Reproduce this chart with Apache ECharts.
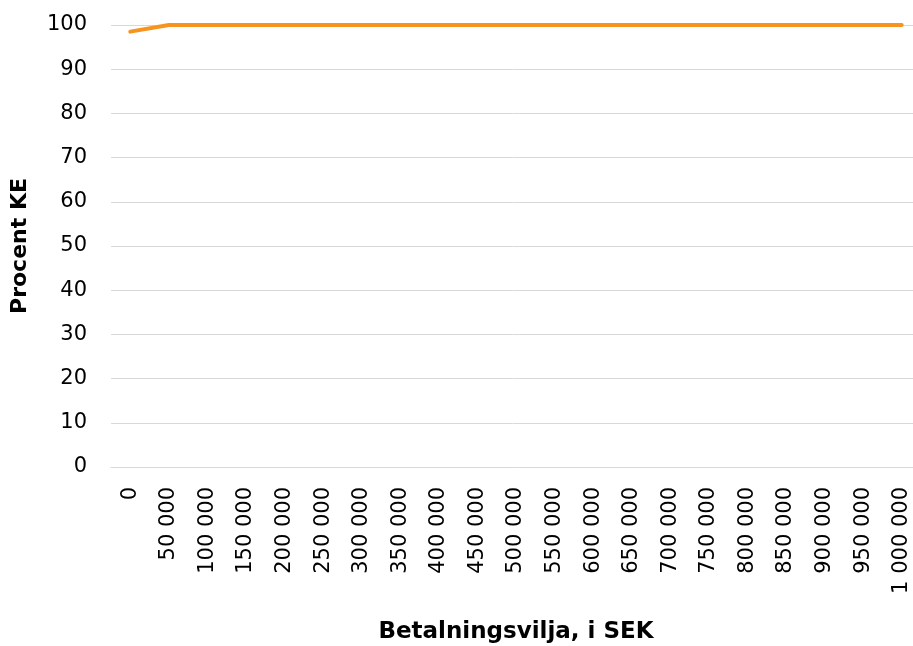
<!DOCTYPE html>
<html>
<head>
    <meta charset="utf-8">
    <title>Procent KE</title>
    <script src="https://cdn.jsdelivr.net/npm/echarts@6/dist/echarts.min.js"></script>
    <style>
        body { margin: 0; background: #fff; }
        #chart { width: 913px; height: 646px; }
    </style>
</head>
<body>
<div id="chart"></div>
<script type="text/javascript">
    // betalningsvilja (SEK) och andel kostnadseffektiv
    var categories = ['0', '50 000', '100 000', '150 000', '200 000', '250 000', '300 000',
        '350 000', '400 000', '450 000', '500 000', '550 000', '600 000', '650 000',
        '700 000', '750 000', '800 000', '850 000', '900 000', '950 000', '1 000 000'];
    var procentKE = [98.5, 100, 100, 100, 100, 100, 100, 100, 100, 100, 100,
        100, 100, 100, 100, 100, 100, 100, 100, 100, 100];

    var font = '"DejaVu Sans", Verdana, sans-serif';
    var myChart = echarts.init(document.getElementById('chart'));
    myChart.setOption({
        animation: false,
        grid: { left: 111, right: -8, top: 25, bottom: 179, outerBoundsMode: 'none', containLabel: false },
        xAxis: {
            type: 'category',
            data: categories,
            boundaryGap: true,
            name: 'Betalningsvilja, i SEK',
            nameLocation: 'middle',
            nameGap: 154,
            nameTextStyle: { fontFamily: font, fontSize: 23, fontWeight: 'bold', color: '#000' },
            axisLine: { lineStyle: { color: '#d9d9d9', width: 1 } },
            axisTick: { show: false },
            axisLabel: { rotate: 90, interval: 0, margin: 20, fontFamily: font, fontSize: 21, color: '#000' }
        },
        yAxis: {
            type: 'value',
            min: 0,
            max: 100,
            interval: 10,
            name: 'Procent KE',
            nameLocation: 'middle',
            nameGap: 80,
            nameTextStyle: { fontFamily: font, fontSize: 22, fontWeight: 'bold', color: '#000' },
            axisLine: { show: false },
            axisTick: { show: false },
            axisLabel: { margin: 24, fontFamily: font, fontSize: 21, color: '#000' },
            splitLine: { lineStyle: { color: '#d9d9d9', width: 1 } }
        },
        series: [{
            type: 'line',
            data: procentKE,
            showSymbol: false,
            lineStyle: { color: '#f7941d', width: 4, cap: 'round' },
            itemStyle: { color: '#f7941d' }
        }]
    });
</script>
</body>
</html>
